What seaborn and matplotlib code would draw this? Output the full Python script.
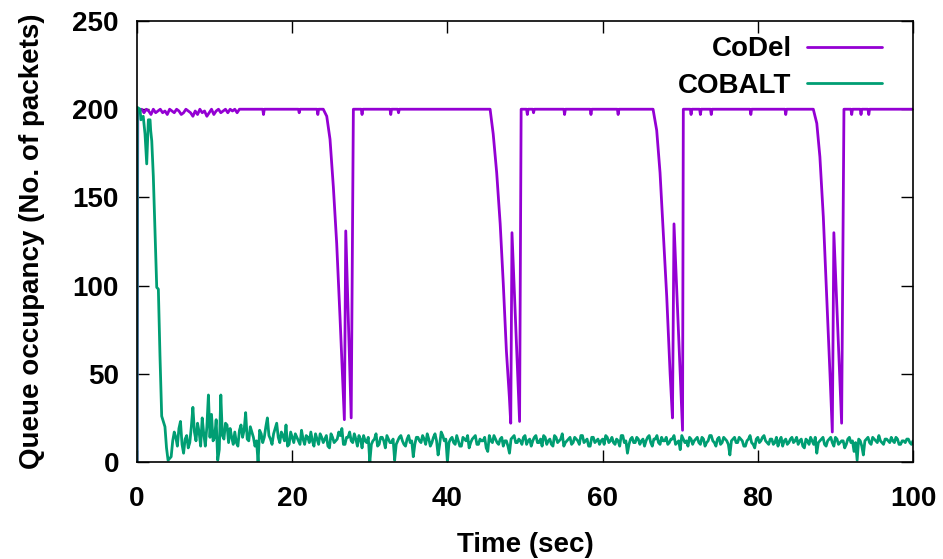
import numpy as np
import pandas as pd
import matplotlib
matplotlib.use("Agg")
import matplotlib.pyplot as plt
import seaborn as sns

# CoDel: start-up noise, sampled every 0.3 s from 0.3 s
codel_start_step = 0.3
codel_start_q = [199, 200, 198, 200, 199, 197, 200, 198, 199, 200,
                 198, 199, 197, 200, 199, 198, 200, 199, 197, 198,
                 200, 199, 198, 196, 199, 197, 200, 198, 199, 196,
                 198, 200, 197, 199, 200, 198, 199, 200, 198, 200,
                 199, 200, 198, 200]

# CoDel: key points afterwards (time in sec, queue in packets)
codel_t = [13.6, 16.2, 16.3, 16.4, 20.8, 20.9, 21.0, 23.2, 23.3, 23.4,
           24.0, 24.45, 24.87, 25.3, 25.73, 26.16, 26.5, 26.72, 26.9, 27.6, 27.88,
           28.9, 29.0, 29.1, 32.6, 32.7, 32.8, 33.6, 33.7, 33.8,
           45.5, 45.9, 46.35, 46.8, 47.2, 47.6, 47.98, 48.16, 48.32, 49.3, 49.5,
           50.2, 50.3, 50.4, 51.0, 51.1, 51.2, 55.0, 55.1, 55.2, 58.4, 58.5, 58.6,
           61.9, 62.0, 62.1,
           66.5, 66.97, 67.4, 67.8, 68.26, 68.7, 69.0, 69.2, 70.3, 70.4,
           71.3, 71.4, 71.5, 72.5, 72.6, 72.7, 73.9, 74.0, 74.1, 79.0, 79.1, 79.2,
           83.5, 83.6, 83.7,
           87.15, 87.6, 88.0, 88.44, 88.88, 89.3, 89.6, 89.8, 90.8, 91.1,
           92.0, 92.1, 92.2, 93.2, 93.3, 93.4, 94.2, 94.3, 94.4, 100.0]
codel_q = [200, 200, 197, 200, 200, 198, 200, 200, 197, 200,
           200, 196, 183, 156, 124, 82, 46, 24, 131, 25, 200,
           200, 197, 200, 200, 197, 200, 200, 198, 200,
           200, 186, 164, 135, 101, 63, 37, 22, 130, 23, 200,
           200, 197, 200, 200, 198, 200, 200, 197, 200, 200, 197, 200,
           200, 197, 200,
           200, 188, 164, 131, 94, 50, 25, 135, 18, 200,
           200, 197, 200, 200, 197, 200, 200, 197, 200, 200, 197, 200,
           200, 197, 200,
           200, 192, 173, 139, 94, 50, 17, 130, 22, 200,
           200, 197, 200, 200, 197, 200, 200, 197, 200, 200]

# COBALT: start-up phase
cobalt_t = [0.05, 0.39, 0.5, 0.8, 1.03, 1.25, 1.46, 1.68, 1.76, 1.9,
            2.1, 2.32, 2.54, 2.75, 2.96, 3.18]
cobalt_q = [201, 200, 194, 196, 186, 169, 194, 194, 188, 182,
            162, 131, 99, 98, 60, 26]

# COBALT: steady state, samples every 0.4 s from 3.6 s
cobalt_step = 0.4
cobalt_start = 3.6
cobalt_noise = [20, 1, 3, 17, 9, 23, 5, 15, 11, 31,
                12, 17, 25, 9, 38, 27, 14, 1, 38, 13,
                21, 19, 10, 11, 18, 14, 28, 12, 17, 9,
                0, 16, 14, 25, 13, 16, 22, 11, 15, 21,
                10, 14,
                16, 12, 18, 10, 14, 17, 9, 13, 16, 11,
                15, 8, 14, 12, 17, 19, 10, 14, 12, 16,
                9, 13, 15, 11, 0, 12, 16, 10, 14, 8,
                13, 11, 1, 12, 15, 10, 13, 11, 3, 14,
                12, 15, 10, 13, 11, 16, 4, 17, 12, 0,
                13, 11, 15, 9, 14, 12, 8, 13, 15, 10,
                12, 14, 6, 12, 15, 11, 13, 9, 12, 5,
                14, 11, 13, 10, 15, 12, 9, 14, 11, 13,
                15, 10, 13, 9, 14, 12, 16, 11, 13, 10,
                14, 12, 15, 11, 13, 9, 14, 12, 10, 13,
                15, 11, 14, 10, 12, 15, 11, 5, 13, 11,
                14, 10, 13, 12, 15, 9, 13, 11, 14, 12,
                10, 13, 15, 11, 7, 13, 12, 14, 10, 13,
                11, 14, 9, 12, 15, 11, 13, 10, 14, 12,
                4, 13, 11, 14, 12, 9, 13, 11, 8, 14,
                12, 15, 11, 13, 10, 14, 12, 9, 13, 11,
                14, 12, 10, 13, 8, 12, 14, 10, 5, 12,
                14, 9, 13, 11, 14, 10, 12, 8, 13, 11,
                6, 1, 12, 4, 13, 11, 14, 12, 15, 11,
                13, 12, 14, 11, 13, 10, 12, 13, 11, 12]

# COBALT: the samples in between, every 0.4 s from 3.8 s
cobalt_mid_start = 3.8
cobalt_noise_mid = [8, 2, 12, 14, 19, 10, 13, 8, 20, 17,
                    22, 9, 16, 20, 14, 12, 24, 7, 15, 22,
                    11, 14, 17, 9, 21, 18, 13, 20, 14, 12,
                    18, 11, 20, 15, 10, 19, 14, 17, 12, 9,
                    17, 11,
                    14, 10, 13, 15, 11, 12, 16, 10, 14, 13,
                    9, 16, 11, 13, 15, 10, 14, 17, 11, 13,
                    15, 8, 12, 14, 10, 13, 9, 14, 12, 15,
                    11, 13, 10, 14, 12, 9, 15, 12, 10, 14,
                    11, 13, 16, 9, 14, 12, 10, 15, 13, 11,
                    14, 10, 12, 9, 13, 15, 11, 14, 10, 13,
                    12, 8, 15, 11, 13, 10, 14, 12, 9, 13,
                    15, 11, 12, 14, 10, 13, 12, 15, 11, 9,
                    14, 12, 10, 15, 11, 13, 9, 12, 14, 11,
                    13, 10, 15, 12, 9, 14, 11, 13, 12, 10,
                    14, 12, 11, 13, 9, 15, 12, 10, 14, 11,
                    13, 12, 9, 14, 11, 13, 15, 10, 12, 14,
                    11, 13, 10, 12, 15, 11, 9, 13, 12, 14,
                    10, 13, 11, 15, 12, 9, 14, 11, 13, 10,
                    12, 14, 11, 13, 9, 12, 15, 10, 13, 11,
                    14, 12, 10, 13, 11, 9, 14, 12, 10, 13,
                    11, 14, 12, 9, 13, 10, 12, 14, 11, 13,
                    10, 12, 14, 9, 13, 11, 12, 10, 14, 12,
                    11, 13, 9, 12, 14, 10, 13, 11, 12, 10,
                    13, 11, 12, 14, 10, 12, 11, 13, 10]

codel_time = [0.0, 0.1] + list(np.round(codel_start_step * np.arange(1, len(codel_start_q) + 1), 2)) + codel_t
codel_vals = [0, 200] + codel_start_q + codel_q
cobalt_time = ([0.0] + cobalt_t
               + list(np.round(cobalt_start + cobalt_step * np.arange(len(cobalt_noise)), 2))
               + list(np.round(cobalt_mid_start + cobalt_step * np.arange(len(cobalt_noise_mid)), 2)))
cobalt_vals = [0] + cobalt_q + cobalt_noise + cobalt_noise_mid

codel_df = pd.DataFrame({"time": codel_time, "queue": codel_vals, "algo": "CoDel"})
cobalt_df = pd.DataFrame({"time": cobalt_time, "queue": cobalt_vals, "algo": "COBALT"})
df = pd.concat([codel_df.sort_values("time"), cobalt_df.sort_values("time")])

sns.set_theme(style="ticks")
plt.rcParams["font.family"] = ["Liberation Sans", "DejaVu Sans"]
plt.rcParams["font.weight"] = "bold"
plt.rcParams["text.color"] = "black"
plt.rcParams["axes.labelcolor"] = "black"

fig = plt.figure(figsize=(9.43, 5.59), dpi=100)
ax = fig.add_axes([0.1453, 0.1735, 0.8229, 0.7889])

sns.lineplot(data=df, x="time", y="queue", hue="algo", estimator=None, sort=False,
             palette={"CoDel": "#9400D3", "COBALT": "#009E73"}, linewidth=2.0, ax=ax)

ax.set_xlim(0, 100)
ax.set_ylim(0, 250)
ax.set_xticks([0, 20, 40, 60, 80, 100])
ax.set_yticks([0, 50, 100, 150, 200, 250])
ax.tick_params(direction="in", length=8.5, width=1, top=True, right=True,
               labelsize=20, colors="black")
ax.tick_params(axis="x", pad=17)
ax.tick_params(axis="y", pad=13)
for lbl in ax.get_xticklabels() + ax.get_yticklabels():
    lbl.set_fontweight("bold")
for s in ax.spines.values():
    s.set_linewidth(1.2)
    s.set_color("black")
ax.set_xlabel("Time (sec)", fontsize=20, fontweight="bold", labelpad=15)
ax.set_ylabel("Queue occupancy (No. of packets)", fontsize=20, fontweight="bold", labelpad=20)

leg = ax.legend(loc="upper right", bbox_to_anchor=(0.96, 0.965), frameon=False,
                markerfirst=False, handlelength=2.7, handletextpad=0.55,
                labelspacing=0.38, borderpad=0, borderaxespad=0,
                prop={"size": 20, "weight": "bold"})

fig.savefig("out.png", dpi=100)
